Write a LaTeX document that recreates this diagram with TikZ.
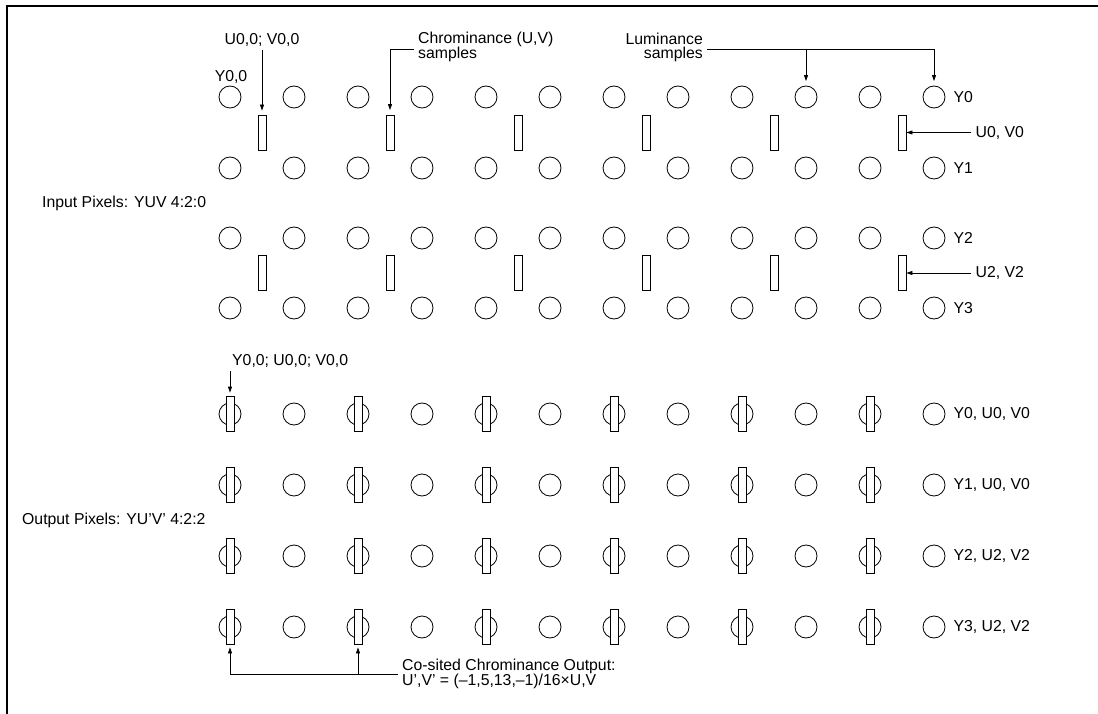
\documentclass[tikz,border=0pt]{standalone}
\usepackage{fontspec}
\setmainfont{Liberation Sans}
\usetikzlibrary{arrows.meta,positioning,calc}

\begin{document}
\begin{tikzpicture}[
  x=1pt,y=-1pt,
  font=\fontsize{15.8}{14}\selectfont,
  luma/.style={circle,draw,line width=.8pt,minimum size=22pt,inner sep=0pt},
  chroma/.style={draw,fill=white,line width=.8pt,minimum width=8pt,minimum height=35pt,inner sep=0pt},
  tag/.style={inner xsep=4pt,inner ysep=0pt,align=left},
  flow/.style={-{Triangle[length=6pt,width=4pt]},line width=.8pt},
]
\useasboundingbox (0,0) rectangle (1098,714);
\draw[line width=1.2pt] (7,6) -- (1098,6);
\draw[line width=2pt] (7,5.4) -- (7,714);

% input pixels, 4:2:0
\foreach \r/\y in {0/97,1/168,2/238,3/308}
  \foreach \c in {0,...,11}
    \node[luma] (y-\r-\c) at (230+64*\c,\y) {};
\foreach \p/\y in {0/132.5,1/273}
  \foreach \k in {0,...,5}
    \node[chroma] (uv-\p-\k) at (262+128*\k,\y) {};

% output pixels, 4:2:2
\foreach \r/\y in {0/414,1/485,2/556,3/627}{
  \foreach \c in {0,...,11}
    \node[luma] (o-\r-\c) at (230+64*\c,\y) {};
  \foreach \k in {0,...,5}
    \node[chroma] (ouv-\r-\k) at (230+128*\k,\y) {};
}

% labels of the input grid
\node (y00) at (231,77) {Y0,0};
\node (uv00) at (262,40) {U0,0; V0,0};
\draw[flow,shorten >=4pt] (uv00.south -| uv-0-0.north) -- (uv-0-0.north);

\node[tag,anchor=west] (chrom) at (414,47) {Chrominance (U,V)\\samples};
\draw[flow,shorten >=4.5pt] ([yshift=-2pt]chrom.west) -| (uv-0-1.north);

\node[tag,anchor=east,align=right] (lumi) at (707,47) {Luminance\\samples};
\coordinate (lumlead) at ([yshift=-2pt]lumi.east);
\draw[flow,shorten >=4.5pt] (lumlead) -| (y-0-11.north);
\draw[flow,shorten >=4.5pt] (y-0-9.north |- lumlead) -- (y-0-9.north);

\foreach \r in {0,...,3}
  \node[tag,right=4pt of y-\r-11] (ylab-\r) {Y\r};
\foreach \p/\t in {0/{U0, V0},1/{U2, V2}}{
  \node[tag,right=65pt of uv-\p-5] (uvlab-\p) {\t};
  \draw[flow] (uvlab-\p) -- (uv-\p-5);
}
\node[tag,anchor=west] (inlab) at (38,203) {Input Pixels: YUV 4:2:0};

% labels of the output grid
\node[tag,anchor=base west] (o00) at (228,365) {Y0,0; U0,0; V0,0};
\draw[flow,shorten >=3.5pt,shorten <=4pt] (ouv-0-0.north |- o00.south) -- (ouv-0-0.north);

\foreach \r/\t in {0/{Y0, U0, V0},1/{Y1, U0, V0},2/{Y2, U2, V2},3/{Y3, U2, V2}}
  \node[tag,right=4pt of o-\r-11] (olab-\r) {\t};
\node[tag,anchor=west] (outlab) at (18,520) {Output Pixels: YU’V’ 4:2:2};

\node[tag,anchor=west] (cosited) at (398,674) {Co-sited Chrominance Output:\\U’,V’ = (–1,5,13,–1)/16×U,V};
\draw[flow,shorten >=2.5pt] (cosited.west) -| (ouv-3-0.south);
\draw[flow,shorten >=2.5pt] (ouv-3-1.south |- cosited.west) -- (ouv-3-1.south);
\end{tikzpicture}
\end{document}
